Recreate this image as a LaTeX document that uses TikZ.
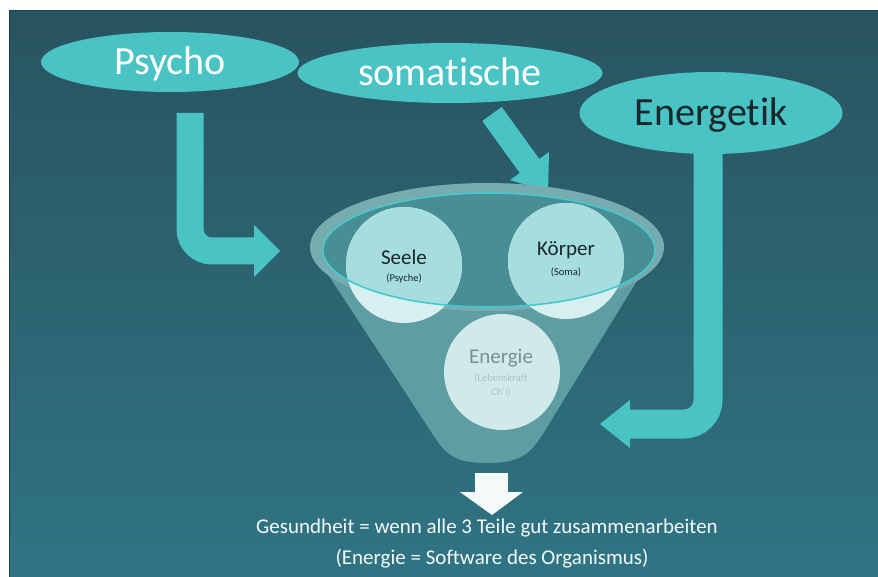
\documentclass[tikz,border=0pt]{standalone}
\usepackage{fontspec}
\setmainfont{Carlito}[Ligatures={NoCommon}]
\usetikzlibrary{shapes.geometric}
\definecolor{bgtop}{RGB}{40,84,95}
\definecolor{bgbot}{RGB}{48,116,131}
\definecolor{bgedge}{RGB}{30,62,72}
\definecolor{aqua}{RGB}{74,195,197}
\definecolor{conecol}{RGB}{94,157,162}
\definecolor{rimcol}{RGB}{118,172,176}
\definecolor{innerfill}{RGB}{72,142,149}
\definecolor{innerline}{RGB}{70,200,204}
\definecolor{circcol}{RGB}{214,239,239}
\definecolor{circin}{RGB}{166,222,223}
\definecolor{energcol}{RGB}{208,234,234}
\definecolor{darktext}{RGB}{25,38,42}
\definecolor{graytext}{RGB}{118,146,149}
\definecolor{paletext}{RGB}{170,194,195}
\definecolor{whitish}{RGB}{244,249,249}
\begin{document}
\begin{tikzpicture}[x=1pt,y=-1pt,
  bubble/.style={ellipse, fill=aqua, inner sep=0pt, text height=26pt, text depth=0pt,
                 font=\fontsize{40}{44}\selectfont},
  ball/.style={circle, inner sep=0pt, minimum size=116pt},
  ctext/.style={inner sep=0pt, font=\fontsize{21}{24}\selectfont, text=darktext},
  stext/.style={inner sep=0pt, font=\fontsize{10.5}{12}\selectfont, text=darktext},
  bottomtext/.style={inner sep=0pt, font=\fontsize{21}{24}\selectfont, text=whitish},
  barrow/.style={draw=aqua, line width=27pt}
]
\useasboundingbox (0,0) rectangle (878,577);
\fill[white] (0,0) rectangle (878,577);
\fill[top color=bgtop, bottom color=bgbot] (9,11) rectangle (878.5,577.5);
\draw[bgedge, line width=1pt] (9,577) -- (9,11) -- (878,11);

% coordinates of connector ends
\coordinate (pA) at (190,113);
\coordinate (pC) at (190,251);
\coordinate (pB) at (256,251);
\coordinate (eA) at (708,140);
\coordinate (eC) at (708,424);
\coordinate (eB) at (628,424);
\coordinate (sA) at (492,114);
\coordinate (sB) at (531,168);

% Psycho arrow
\draw[barrow, rounded corners=22pt] (pA) -- (pC) -- (pB);
\fill[aqua] (254,225) -- (280,251) -- (254,277) -- cycle;
% Energetik arrow
\draw[barrow, line width=29pt, rounded corners=24pt] (eA) -- (eC) -- (eB);
\fill[aqua] (630,400) -- (600,424) -- (630,448) -- cycle;
% somatische arrow
\draw[barrow, line width=24pt] (sA) -- (sB);
\fill[aqua] (549,152) -- (548,192) -- (510,180) -- cycle;

% funnel
\fill[conecol] (312,250) -- (430,430) .. controls (445,455) and (455,463) .. (487,463)
   .. controls (519,463) and (530,455) .. (544,432) -- (656,250) -- cycle;
\fill[rimcol] (487,247) ellipse [x radius=177pt, y radius=64pt];
\fill[innerfill] (489,250) ellipse [x radius=166pt, y radius=57pt];

% circles
\node[ball, fill=circcol] (seele) at (404,265) {};
\node[ball, fill=circcol] (koerper) at (566,261) {};
\node[ball, fill=energcol] (energie) at (502,372) {};
\begin{scope}
  \clip (489,250) ellipse [x radius=166pt, y radius=57pt];
  \fill[circin] (seele.center) circle [radius=58pt];
  \fill[circin] (koerper.center) circle [radius=58pt];
\end{scope}
\draw[innerline, line width=1.6pt] (489,250) ellipse [x radius=166pt, y radius=57pt];

% circle texts
\node[ctext] (seeleT) at (404,257) {Seele};
\node[stext] (psycheT) at (404,279) {(Psyche)};
\node[ctext] (koerperT) at (566,250) {Körper};
\node[stext] (somaT) at (566,272) {(Soma)};
\node[ctext, text=graytext] (energieT) at (501,358) {Energie};
\node[stext, text=paletext] (lebenT) at (501,378) {(Lebenskraft};
\node[stext, text=paletext] (chiT) at (501,392) {Ch'i)};

% top bubbles
\node[bubble, minimum width=258pt, minimum height=60pt, text=white] (psycho) at (170,62) {Psycho};
\node[bubble, minimum width=305pt, minimum height=60pt, text=white] (somat) at (450,73) {somatische};
\node[bubble, minimum width=263pt, minimum height=82pt, text=darktext] (energetik) at (711,113) {Energetik};

% down arrow
\fill[whitish] (475,473) rectangle (508,493);
\fill[whitish] (460,492) -- (523,492) -- (492,515) -- cycle;

% bottom texts
\node[bottomtext] (gesund) at (487,528) {Gesundheit = wenn alle 3 Teile gut zusammenarbeiten};
\node[bottomtext] (software) at (492,559) {(Energie = Software des Organismus)};
\end{tikzpicture}
\end{document}
